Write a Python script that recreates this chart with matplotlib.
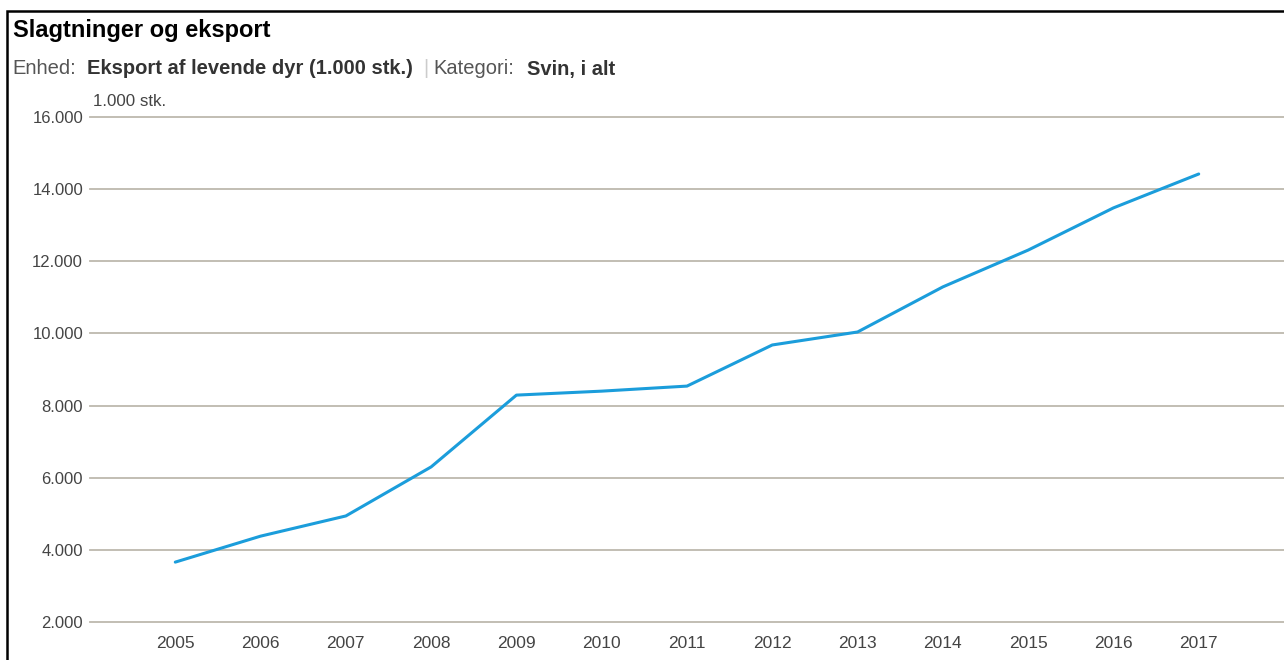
import matplotlib
matplotlib.use('Agg')
from matplotlib import pyplot as plt
from matplotlib.ticker import FuncFormatter
from matplotlib.patches import Rectangle

plt.rcParams['font.family'] = ['Liberation Sans', 'DejaVu Sans']

years = [2005, 2006, 2007, 2008, 2009, 2010, 2011, 2012, 2013, 2014, 2015, 2016, 2017]
export = [3660, 4380, 4940, 6300, 8290, 8400, 8540, 9680, 10040, 11290, 12310, 13480, 14420]
yticks = [2000, 4000, 6000, 8000, 10000, 12000, 14000, 16000]

W, H = 1284, 660
fig = plt.figure(figsize=(W / 100, H / 100), dpi=100)

# black frame round the widget (left and top visible)
fig.add_artist(Rectangle((7 / W, -0.1), 1.2, 1 - 11 / H + 0.1, transform=fig.transFigure,
                         fill=False, edgecolor='black', linewidth=1.8))

ax = fig.add_axes([90 / W, 1 - 622 / H, 1 - 90 / W, (622 - 117) / H])
ax.plot(years, export, color='#1b9ddb', linewidth=2.2, solid_capstyle='round')
ax.set_xlim(2004.0, 2018.0)
ax.set_ylim(2000, 16000)
ax.set_yticks(yticks)
ax.set_xticks(years)
ax.yaxis.set_major_formatter(FuncFormatter(lambda v, p: f'{int(v):,}'.replace(',', '.')))
ax.grid(axis='y', color='#bdb9ae', linewidth=1.3)
for gl in ax.get_ygridlines():
    gl.set_clip_on(False)
ax.set_axisbelow(True)
for s in ax.spines.values():
    s.set_visible(False)
ax.tick_params(axis='y', length=0, pad=5, labelsize=12, labelcolor='#444444')
ax.tick_params(axis='x', length=0, pad=10, labelsize=12.5, labelcolor='#444444')

fig.text(13 / W, 1 - 30 / H, 'Slagtninger og eksport', fontsize=17, fontweight='bold',
         color='black', va='center')
sub_y = 1 - 69 / H
fig.text(12 / W, sub_y, 'Enhed:', fontsize=14.5, color='#555555', va='center')
fig.text(87 / W, sub_y, 'Eksport af levende dyr (1.000 stk.)', fontsize=14.5,
         fontweight='bold', color='#333333', va='center')
fig.text(423 / W, sub_y, '|', fontsize=14.5, color='#cccccc', va='center')
fig.text(433 / W, sub_y, 'Kategori:', fontsize=14.5, color='#555555', va='center')
fig.text(527 / W, sub_y, 'Svin, i alt', fontsize=14.5, fontweight='bold',
         color='#333333', va='center')
fig.text(93 / W, 1 - 101 / H, '1.000 stk.', fontsize=12.2, color='#444444', va='center')

fig.savefig('out.png', dpi=100, facecolor='white')
